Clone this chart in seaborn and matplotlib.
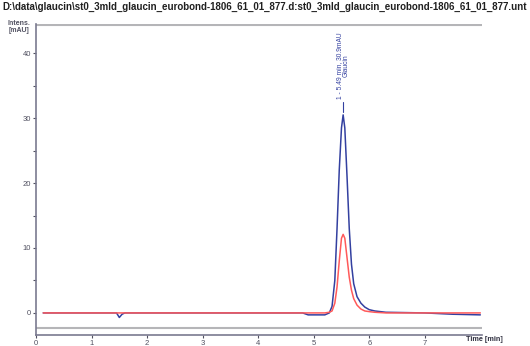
import matplotlib
matplotlib.use("Agg")
import matplotlib.pyplot as plt
import numpy as np
import pandas as pd
import seaborn as sns

# retention time [min] and detector signal [mAU]
time_min = [0.13, 0.5, 1.0, 1.45, 1.5, 1.55, 1.6, 2.0, 3.0, 4.0, 4.8, 4.9, 5.2,
            5.28, 5.33, 5.38, 5.42, 5.46, 5.50, 5.53, 5.56, 5.60, 5.64, 5.68,
            5.72, 5.78, 5.85, 5.92, 6.0, 6.1, 6.3, 7.0, 7.5, 8.0]
blue_mau = [0.0, 0.0, 0.0, 0.0, -0.7, -0.2, 0.0, 0.0, 0.0, 0.0, 0.0, -0.3, -0.3,
            0.0, 1.0, 5.0, 13.0, 22.0, 28.5, 30.5, 28.5, 21.0, 13.0, 7.5,
            4.5, 2.5, 1.5, 0.9, 0.5, 0.3, 0.1, 0.0, -0.2, -0.3]
red_mau = [0.0, 0.0, 0.0, 0.0, 0.0, 0.0, 0.0, 0.0, 0.0, 0.0, 0.0, 0.0, 0.0,
           0.1, 0.3, 1.5, 4.0, 8.0, 11.5, 12.1, 11.5, 8.5, 5.5, 3.5,
           2.2, 1.2, 0.6, 0.3, 0.2, 0.1, 0.0, 0.0, 0.0, 0.0]

title = ("D:\\data\\glaucin\\st0_3mld_glaucin_eurobond-1806_61_01_877.d:"
         "st0_3mld_glaucin_eurobond-1806_61_01_877.unt")
peak_label = "1 - 5.49 min, 30.9mAU\nGlaucin"

df = pd.DataFrame({
    "time": time_min * 2,
    "signal": blue_mau + red_mau,
    "trace": ["blue"] * len(time_min) + ["red"] * len(time_min),
})

sns.set_style("ticks")
plt.rcParams["font.family"] = ["Liberation Sans", "DejaVu Sans"]

fig = plt.figure(figsize=(5.30, 3.46), dpi=100)
ax = fig.add_axes([36 / 530, 11 / 346, 446 / 530, 311 / 346])

sns.lineplot(data=df, x="time", y="signal", hue="trace",
             palette={"blue": "#3340a0", "red": "#ff5a5a"},
             hue_order=["blue", "red"], linewidth=1.1, legend=False,
             sort=False, estimator=None, ax=ax)

ax.set_xlim(0, 8.03)
ax.set_ylim(-3.4, 44.5)
ax.axhline(44.4, color="#b5b5b8", lw=1.5, zorder=0)
ax.axhline(-2.3, color="#b5b5b8", lw=1.5, zorder=0)

ax.set_xticks(range(0, 8))
ax.set_yticks([0, 10, 20, 30, 40])
ax.set_yticks([5, 15, 25, 35], minor=True)
ax.tick_params(axis="both", which="both", labelsize=5.5, colors="#505060",
               length=2.5, width=0.8, pad=1)
ax.tick_params(axis="y", which="minor", length=2)
for s in ("top", "right"):
    ax.spines[s].set_visible(False)
for s in ("left", "bottom"):
    ax.spines[s].set_color("#7a7a90")
    ax.spines[s].set_linewidth(1.2)
ax.set_xlabel("")
ax.set_ylabel("")

fig.text(0.5, 0.995, title, ha="center", va="top", fontsize=7.0,
         fontweight="bold", color="#202020")
fig.text(0.035, 0.922, "Intens.\n[mAU]", ha="center", va="center",
         fontsize=5, color="#505060", linespacing=1.1, fontweight="bold")
fig.text(0.913, 0.010, "Time [min]", ha="center", va="bottom",
         fontsize=5.2, color="#303040", fontweight="bold")

ax.plot([5.53, 5.53], [31.0, 32.5], color="#3340a0", lw=0.8)
ax.text(5.53, 33.0, peak_label, rotation=90, ha="center", va="bottom",
        fontsize=4.8, color="#3340a0", linespacing=0.9)

fig.savefig("out.png", dpi=100)
